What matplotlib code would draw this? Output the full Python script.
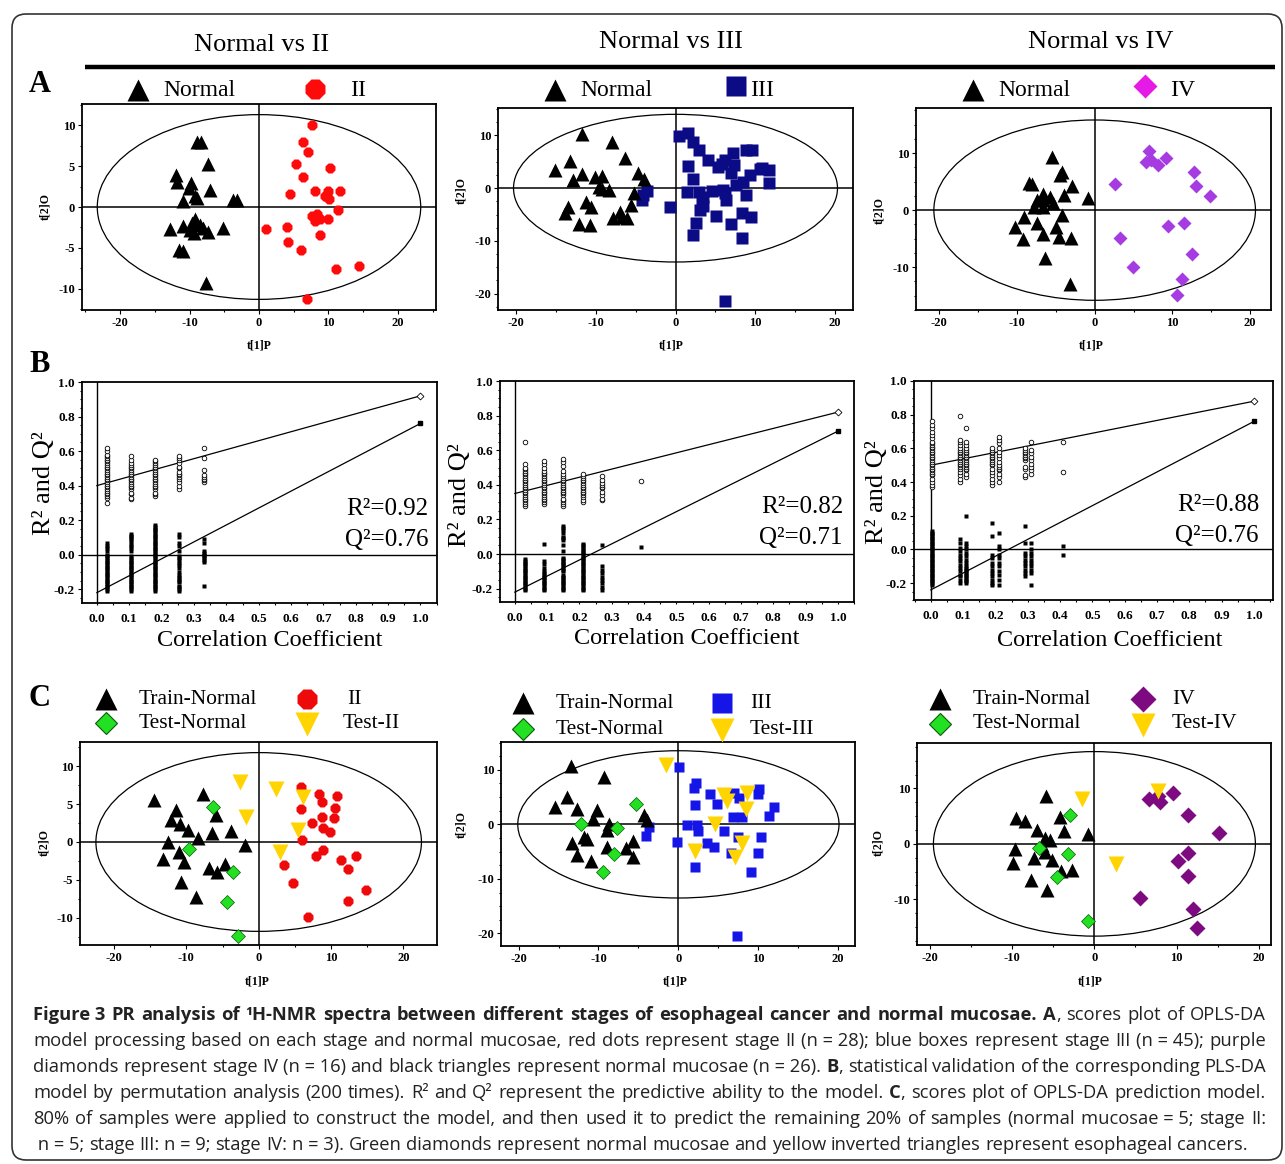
import matplotlib
matplotlib.use('Agg')
import matplotlib.pyplot as plt
from matplotlib.patches import Ellipse, FancyBboxPatch
from matplotlib.ticker import MultipleLocator

W, H = 1285, 1164
SERIF = ['Liberation Serif', 'DejaVu Serif']
SANS = ['Open Sans', 'DejaVu Sans']
plt.rcParams['font.family'] = SERIF
plt.rcParams['axes.unicode_minus'] = False

# ---------------- data: row A (OPLS-DA scores) ----------------
a1_normal_x = [-8.9, -8.4, -7.3, -12.0, -11.8, -9.8, -10.1, -9.2, -8.9, -7.1, -11.0, -3.7, -3.1,
               -12.8, -10.9, -10.0, -9.2, -8.5, -9.3, -8.0, -7.3, -5.2, -11.5, -11.0, -7.6, -9.6]
a1_normal_y = [8.0, 8.0, 5.3, 3.9, 3.0, 2.9, 2.3, 1.3, 1.1, 2.1, 0.7, 0.9, 0.9,
               -2.7, -2.3, -2.8, -1.5, -2.2, -3.2, -2.6, -3.0, -2.6, -5.2, -5.4, -9.3, -2.0]
a1_stage_x = [7.6, 6.4, 7.1, 5.4, 10.3, 6.3, 4.5, 8.0, 9.95, 11.6, 9.5, 10.1, 11.4, 7.6,
              8.3, 8.0, 10.0, 1.0, 4.1, 8.8, 4.2, 6.1, 11.1, 14.4, 6.9, 8.8, 9.8, 8.6]
a1_stage_y = [10.0, 8.0, 6.7, 5.2, 4.8, 3.7, 1.6, 1.9, 1.9, 2.0, 1.3, 1.0, -0.4, -1.1,
              -0.9, -1.7, -1.5, -2.7, -2.4, -3.4, -4.3, -5.2, -7.6, -7.2, -11.3, -1.5, 1.5, -1.3]

a2_normal_x = [-11.8, -8.0, -6.4, -13.3, -15.1, -11.8, -12.9, -10.1, -9.2, -4.7, -4.0, -9.2, -8.3,
               -5.2, -11.3, -10.6, -13.5, -13.9, -12.1, -10.8, -5.6, -7.0, -7.8, -6.1, -6.7, -9.6]
a2_normal_y = [10.2, 8.8, 5.7, 5.1, 3.4, 2.6, 1.6, 2.1, 2.3, 2.8, 1.8, -0.1, -0.4,
               -1.0, -2.6, -3.5, -3.5, -4.8, -6.7, -7.0, -3.2, -4.5, -5.7, -5.7, -5.4, 0.3]
a2_stage_x = [0.5, 1.6, 2.2, 3.0, 4.1, 5.4, 6.2, 7.2, 8.9, 9.6, 7.4, 10.6, 11.8, 1.6, 2.2,
              7.0, 9.3, 8.5, 7.6, 11.8, 1.5, 2.9, 4.6, 6.2, 6.4, 8.9, 3.3, 3.1, -0.7, 2.6,
              2.2, 5.1, 7.0, 8.3, 8.3, 9.5, 6.2, -3.6, -4.2, -4.1, 3.5, 6.0, 5.8, 10.9, 3.4]
a2_stage_y = [9.9, 10.4, 8.8, 7.3, 5.4, 4.0, 5.3, 6.6, 7.2, 7.3, 4.4, 3.7, 3.5, 4.2, 1.8,
              2.8, 2.5, 1.2, 0.6, 0.9, -0.7, -0.7, -0.5, -1.0, -2.3, -1.3, -2.6, -4.2, -3.5, -6.6,
              -8.9, -5.3, -6.7, -9.5, -4.8, -5.4, -21.4, -0.5, -2.3, -1.3, -1.6, -0.4, 4.6, 3.9, -3.3]

a3_normal_x = [-5.5, -4.2, -4.4, -8.5, -8.1, -2.9, -3.9, -6.7, -7.4, -6.6, -7.8, -6.7, -5.3,
               -0.9, -9.1, -4.2, -10.2, -7.4, -5.0, -6.6, -9.2, -4.6, -3.1, -6.4, -3.2, -5.7]
a3_normal_y = [9.3, 6.7, 6.1, 4.7, 4.5, 4.2, 2.6, 2.9, 1.7, 1.7, 0.6, 0.6, 1.2,
               2.2, -1.2, -0.9, -2.9, -2.3, -2.9, -4.1, -5.1, -4.7, -4.8, -8.3, -13.0, 2.3]
a3_stage_x = [7.0, 6.6, 8.2, 9.2, 2.6, 12.8, 13.0, 14.9, 11.5, 9.5, 3.3, 12.5, 4.9, 11.2, 10.6, 7.2]
a3_stage_y = [10.3, 8.5, 7.9, 9.2, 4.5, 6.6, 4.2, 2.4, -2.2, -2.7, -4.8, -7.6, -9.9, -12.1, -14.9, 8.8]

# ---------------- data: row B (permutation tests) ----------------
b1_cols = [0.03, 0.105, 0.18, 0.255, 0.33]
b1_r2 = [[0.30, 0.33, 0.34, 0.35, 0.36, 0.37, 0.38, 0.39, 0.40, 0.41, 0.42, 0.43, 0.44, 0.45, 0.46,
          0.47, 0.48, 0.49, 0.50, 0.51, 0.52, 0.53, 0.54, 0.55, 0.56, 0.57, 0.58, 0.60, 0.62],
         [0.32, 0.33, 0.35, 0.36, 0.38, 0.39, 0.40, 0.41, 0.42, 0.43, 0.44, 0.45, 0.46, 0.47, 0.48,
          0.49, 0.50, 0.51, 0.52, 0.53, 0.55, 0.57],
         [0.34, 0.35, 0.36, 0.38, 0.39, 0.40, 0.41, 0.42, 0.43, 0.44, 0.45, 0.46, 0.47, 0.48, 0.49,
          0.50, 0.51, 0.52, 0.53, 0.54, 0.55],
         [0.38, 0.40, 0.42, 0.44, 0.45, 0.46, 0.47, 0.48, 0.50, 0.51, 0.53, 0.55, 0.56, 0.57],
         [0.42, 0.43, 0.44, 0.45, 0.46, 0.49, 0.56, 0.62]]
b1_q2 = [[-0.21, -0.20, -0.19, -0.18, -0.17, -0.16, -0.15, -0.14, -0.13, -0.12, -0.11, -0.10, -0.09,
          -0.08, -0.07, -0.06, -0.05, -0.04, -0.03, -0.02, -0.01, 0.00, 0.02, 0.04, 0.05, 0.07],
         [-0.21, -0.20, -0.19, -0.18, -0.17, -0.16, -0.15, -0.14, -0.13, -0.12, -0.11, -0.10, -0.09,
          -0.08, -0.07, -0.06, -0.05, -0.04, -0.03, -0.02, -0.01, 0.02, 0.04, 0.05, 0.06, 0.08,
          0.09, 0.10, 0.11, 0.12],
         [-0.21, -0.20, -0.19, -0.18, -0.17, -0.16, -0.15, -0.14, -0.13, -0.12, -0.11, -0.10, -0.09,
          -0.08, -0.07, -0.06, -0.05, -0.04, -0.03, -0.02, -0.01, 0.00, 0.01, 0.02, 0.03, 0.04,
          0.05, 0.06, 0.07, 0.08, 0.09, 0.10, 0.11, 0.12, 0.13, 0.14, 0.15, 0.16, 0.17],
         [-0.21, -0.20, -0.19, -0.18, -0.16, -0.15, -0.14, -0.13, -0.12, -0.10, -0.08, -0.06,
          -0.05, -0.03, -0.02, -0.01, 0.02, 0.05, 0.07, 0.10, 0.12],
         [-0.18, -0.04, -0.03, -0.02, -0.01, 0.00, 0.01, 0.02, 0.07, 0.09]]

b2_cols = [0.03, 0.09, 0.15, 0.21, 0.27, 0.39]
b2_r2 = [[0.28, 0.29, 0.30, 0.31, 0.32, 0.33, 0.34, 0.35, 0.36, 0.37, 0.38, 0.39, 0.40, 0.41, 0.42,
          0.43, 0.44, 0.45, 0.46, 0.47, 0.48, 0.49, 0.50, 0.52, 0.65],
         [0.29, 0.30, 0.31, 0.32, 0.33, 0.34, 0.35, 0.36, 0.37, 0.38, 0.39, 0.40, 0.41, 0.42, 0.43,
          0.44, 0.45, 0.46, 0.47, 0.48, 0.50, 0.52, 0.54],
         [0.28, 0.29, 0.30, 0.31, 0.32, 0.34, 0.35, 0.36, 0.37, 0.38, 0.39, 0.40, 0.41, 0.42, 0.43,
          0.44, 0.45, 0.46, 0.48, 0.51, 0.53, 0.55],
         [0.30, 0.31, 0.33, 0.34, 0.35, 0.36, 0.37, 0.38, 0.39, 0.40, 0.41, 0.42, 0.43, 0.44, 0.45, 0.46],
         [0.31, 0.32, 0.34, 0.36, 0.38, 0.39, 0.40, 0.41, 0.43, 0.45],
         [0.42]]
b2_q2 = [[-0.21, -0.20, -0.19, -0.18, -0.17, -0.16, -0.15, -0.14, -0.13, -0.12, -0.11, -0.10, -0.09,
          -0.08, -0.07, -0.06, -0.05, -0.04, -0.03],
         [-0.21, -0.20, -0.19, -0.18, -0.17, -0.16, -0.15, -0.14, -0.13, -0.12, -0.11, -0.10,
          -0.08, -0.06, -0.04, 0.06],
         [-0.21, -0.20, -0.19, -0.18, -0.17, -0.16, -0.15, -0.14, -0.13, -0.12, -0.10, -0.09, -0.08,
          -0.07, -0.06, -0.05, -0.04, -0.03, -0.02, 0.02, 0.05, 0.08, 0.09, 0.10, 0.12, 0.14,
          0.15, 0.16],
         [-0.21, -0.20, -0.19, -0.18, -0.17, -0.16, -0.15, -0.14, -0.13, -0.12, -0.11, -0.10, -0.09,
          -0.08, -0.07, -0.06, -0.05, -0.04, -0.03, -0.02, -0.01, 0.00, 0.01, 0.02, 0.03, 0.04,
          0.05, 0.06],
         [-0.21, -0.19, -0.17, -0.15, -0.13, -0.11, -0.09, -0.07, 0.05],
         [0.04]]

b3_cols = [0.005, 0.09, 0.11, 0.19, 0.21, 0.29, 0.31, 0.41]
b3_r2 = [[0.37, 0.38, 0.40, 0.42, 0.44, 0.45, 0.46, 0.47, 0.48, 0.49, 0.50, 0.51, 0.52, 0.53, 0.54,
          0.55, 0.56, 0.57, 0.58, 0.59, 0.60, 0.61, 0.62, 0.63, 0.64, 0.66, 0.68, 0.70, 0.72, 0.74, 0.76],
         [0.40, 0.42, 0.44, 0.46, 0.48, 0.49, 0.50, 0.51, 0.52, 0.53, 0.54, 0.55, 0.56, 0.57, 0.58,
          0.59, 0.60, 0.62, 0.64, 0.65, 0.79],
         [0.43, 0.45, 0.47, 0.48, 0.49, 0.50, 0.51, 0.52, 0.53, 0.54, 0.55, 0.56, 0.57, 0.58, 0.59,
          0.60, 0.62, 0.64, 0.72],
         [0.38, 0.40, 0.42, 0.44, 0.46, 0.48, 0.50, 0.51, 0.52, 0.53, 0.54, 0.55, 0.56, 0.57, 0.58,
          0.59, 0.60],
         [0.40, 0.43, 0.45, 0.47, 0.48, 0.49, 0.50, 0.52, 0.54, 0.56, 0.58, 0.60, 0.63, 0.65, 0.67],
         [0.43, 0.44, 0.48, 0.49, 0.53, 0.54, 0.55, 0.56, 0.57, 0.58, 0.59, 0.60],
         [0.45, 0.47, 0.49, 0.51, 0.53, 0.55, 0.57, 0.59, 0.64],
         [0.46, 0.64]]
b3_q2 = [[-0.21, -0.20, -0.19, -0.18, -0.17, -0.16, -0.15, -0.14, -0.13, -0.12, -0.11, -0.10, -0.09,
          -0.08, -0.07, -0.06, -0.05, -0.04, -0.03, -0.02, -0.01, 0.00, 0.01, 0.02, 0.03, 0.04,
          0.05, 0.06, 0.07, 0.08, 0.09, 0.10, 0.11],
         [-0.20, -0.18, -0.16, -0.15, -0.13, -0.11, -0.09, -0.07, -0.05, -0.03, -0.01, 0.01, 0.04, 0.06],
         [-0.20, -0.19, -0.18, -0.17, -0.16, -0.15, -0.14, -0.13, -0.12, -0.11, -0.10, -0.08, -0.06,
          -0.04, -0.02, 0.00, 0.02, 0.04, 0.20],
         [-0.21, -0.20, -0.18, -0.16, -0.14, -0.12, -0.10, -0.08, -0.05, -0.03, 0.08, 0.16],
         [-0.21, -0.18, -0.15, -0.13, -0.10, -0.08, -0.05, -0.03, 0.00, 0.02, 0.10],
         [-0.16, -0.14, -0.12, -0.10, -0.08, -0.06, -0.04, -0.02, 0.04, 0.14],
         [-0.21, -0.14, -0.12, -0.10, -0.08, -0.06, -0.04, -0.02, 0.00, 0.04],
         [-0.03, 0.02]]

r2_start = [0.40, 0.35, 0.50]
q2_start = [-0.22, -0.22, -0.24]
r2_model = [0.92, 0.82, 0.88]
q2_model = [0.76, 0.71, 0.76]

# ---------------- data: row C (prediction scores) ----------------
c1_train_x = [-14.5, -7.7, -11.4, -12.1, -10.9, -9.8, -5.9, -6.5, -3.8, -8.4, -12.5, -1.9, -11.0,
              -13.2, -10.3, -6.8, -5.7, -4.6, -10.7, -8.6]
c1_train_y = [5.5, 6.4, 4.2, 2.9, 2.4, 1.6, 3.5, 1.2, 1.5, 0.5, 0.0, -0.4, -1.3,
              -2.2, -2.6, -3.5, -3.9, -2.9, -5.3, -7.3]
c1_testn_x = [-6.3, -9.7, -3.6, -4.4, -2.9]
c1_testn_y = [4.6, -0.9, -4.0, -7.9, -12.4]
c1_stage_x = [5.8, 8.3, 10.8, 8.7, 5.9, 10.5, 8.8, 10.4, 7.4, 8.9, 9.8, 6.0, 8.9, 7.9, 11.4,
              13.5, 12.3, 3.5, 4.8, 14.9, 12.4, 6.8]
c1_stage_y = [7.2, 6.3, 6.1, 5.3, 4.3, 4.5, 3.3, 3.2, 2.5, 1.8, 1.3, 0.2, -1.1, -1.8, -2.4,
              -1.9, -3.6, -3.1, -5.4, -6.4, -7.8, -9.9]
c1_tests_x = [-2.6, -1.7, 2.4, 6.1, 5.5, 2.9]
c1_tests_y = [7.9, 3.3, 7.0, 5.9, 1.6, -1.3]

c2_train_x = [-13.5, -9.25, -14.0, -15.5, -12.7, -10.2, -10.7, -8.7, -8.9, -4.25, -3.9, -11.8,
              -13.3, -8.9, -6.6, -5.7, -12.7, -10.9, -5.7, -11.4]
c2_train_y = [10.7, 8.7, 5.1, 3.2, 2.8, 2.6, 0.9, 0.1, -1.0, 1.7, 0.8, -2.3,
              -3.5, -4.1, -4.3, -3.1, -5.6, -6.7, -6.0, -2.6]
c2_testn_x = [-5.25, -12.25, -7.7, -8.0, -9.4]
c2_testn_y = [3.7, 0.1, -0.6, -5.5, -8.7]
c2_stage_x = [0.1, 2.25, 1.9, 3.9, 4.8, 7.0, 7.6, 10.1, 10.0, 12.0, 11.3, 2.1, 6.8, 8.0, 1.1,
              2.3, 2.5, 5.7, 7.5, 10.3, -0.2, 3.6, 4.5, 6.6, 10.0, 2.1, 9.1, 7.3, -3.7, -4.1]
c2_stage_y = [10.6, 7.6, 6.6, 5.5, 3.8, 5.8, 4.8, 6.4, 5.6, 3.2, 1.5, 3.5, 1.4, 1.4, -0.1,
              -0.1, -1.2, -1.3, -2.3, -2.4, -3.3, -3.5, -4.1, -5.2, -5.2, -7.9, -8.8, -20.4, -0.4, -2.1]
c2_tests_x = [-1.5, 5.7, 6.1, 8.6, 8.5, 4.6, 7.95, 2.1, 7.1]
c2_tests_y = [10.8, 5.4, 4.2, 5.8, 2.9, 0.1, -3.4, -4.8, -6.0]

c3_train_x = [-5.9, -9.5, -8.4, -7.0, -4.2, -3.7, -0.8, -6.0, -5.4, -9.65, -6.0, -7.4, -5.2,
              -9.9, -4.1, -2.7, -7.75, -5.8, -6.4]
c3_train_y = [8.6, 4.6, 4.1, 2.5, 4.8, 2.3, 1.8, 1.1, 0.7, -1.0, -1.4, -2.6, -2.9,
              -3.5, -4.9, -4.7, -6.5, -8.3, -0.2]
c3_testn_x = [-3.0, -6.7, -3.2, -4.6, -0.8]
c3_testn_y = [5.2, -0.8, -1.8, -5.9, -14.0]
c3_stage_x = [6.6, 8.0, 9.6, 11.4, 15.2, 11.4, 10.2, 11.4, 5.5, 12.0, 12.5, 7.8]
c3_stage_y = [8.1, 7.5, 9.2, 5.2, 1.9, -1.7, -3.1, -5.8, -9.8, -11.7, -15.2, 8.6]
c3_tests_x = [-1.5, 7.8, 2.6]
c3_tests_y = [8.1, 9.5, -3.6]

titles = ['Normal vs II', 'Normal vs III', 'Normal vs IV']
stages = ['II', 'III', 'IV']
# '*' toggles bold, '~' is a space that is not stretched when justifying
caption = [
    "*Figure~3 PR analysis of ¹H-NMR spectra between different stages of esophageal cancer and normal mucosae. A*, scores plot of OPLS-DA",
    "model processing based on each stage and normal mucosae, red dots represent stage II (n~=~28); blue boxes represent stage III (n~=~45); purple",
    "diamonds represent stage IV (n~=~16) and black triangles represent normal mucosae (n~=~26). *B*, statistical validation of the corresponding PLS-DA",
    "model by permutation analysis (200 times). R² and Q² represent the predictive ability to the model. *C*, scores plot of OPLS-DA prediction model.",
    "80% of samples were applied to construct the model, and then used it to predict the remaining 20% of samples (normal mucosae~=~5; stage II:",
    "~n~=~5; stage III: n~=~9; stage IV: n~=~3). Green diamonds represent normal mucosae and yellow inverted triangles represent esophageal cancers.",
]

fig = plt.figure(figsize=(W / 100, H / 100), dpi=100)


def px_axes(l, t, r, b):
    return fig.add_axes([l / W, 1 - b / H, (r - l) / W, (b - t) / H])


def bold_ticks(ax):
    for lab in ax.get_xticklabels() + ax.get_yticklabels():
        lab.set_fontweight('bold')


def score_axes(box, xlim, ylim, ell, yticks):
    ax = px_axes(*box)
    ax.set_xlim(*xlim)
    ax.set_ylim(*ylim)
    ax.axhline(0, color='k', lw=1.1, zorder=1)
    ax.axvline(0, color='k', lw=1.1, zorder=1)
    ax.add_patch(Ellipse((0, 0), 2 * ell[0], 2 * ell[1], fill=False, lw=0.9, ec='k', zorder=1))
    xt = [-20, -10, 0, 10, 20]
    ax.set_xticks(xt, [str(v) for v in xt])
    ax.set_yticks(yticks, [str(v) for v in yticks])
    ax.xaxis.set_minor_locator(MultipleLocator(5))
    ax.yaxis.set_minor_locator(MultipleLocator(2.5))
    ax.tick_params(which='both', direction='out', width=0.8, labelsize=9, pad=2)
    ax.tick_params(which='major', length=3)
    ax.tick_params(which='minor', length=1.5)
    bold_ticks(ax)
    for s in ax.spines.values():
        s.set_linewidth(1.3)
    return ax


# ---------- row A ----------
a_boxes = [(82, 104, 436, 310), (498, 108, 853, 310), (916, 108, 1271, 310)]
a_lims = [((-25.5, 25.5), (-12.6, 12.6)), ((-22.3, 22.3), (-23.1, 15.2)), ((-23.0, 22.7), (-17.5, 17.9))]
a_ells = [(23.3, 11.3), (20.35, 14.0), (20.7, 15.8)]
a_yticks = [[-10, -5, 0, 5, 10], [-20, -10, 0, 10], [-10, 0, 10]]
a_normal = [(a1_normal_x, a1_normal_y), (a2_normal_x, a2_normal_y), (a3_normal_x, a3_normal_y)]
a_stage = [(a1_stage_x, a1_stage_y), (a2_stage_x, a2_stage_y), (a3_stage_x, a3_stage_y)]
a_style = [dict(marker='8', ms=8, color='#ff0a0a'),
           dict(marker='s', ms=8, color='#0b0b86'),
           dict(marker='D', ms=7.5, color='#a53be0')]
for i in range(3):
    ax = score_axes(a_boxes[i], a_lims[i][0], a_lims[i][1], a_ells[i], a_yticks[i])
    ax.plot(*a_stage[i], ls='none', mec='none', zorder=3, **a_style[i])
    ax.plot(*a_normal[i], ls='none', marker='^', ms=10.5, color='k', mec='none', zorder=3)

# ---------- row B ----------
b_boxes = [(82, 382, 437, 603), (500, 381, 854, 602), (914, 381, 1273, 600)]
b_xlims = [(-0.046, 1.051), (-0.046, 1.05), (-0.052, 1.059)]
b_ylims = [(-0.28, 1.0), (-0.277, 1.0), (-0.30, 1.0)]
b_cols = [b1_cols, b2_cols, b3_cols]
b_r2 = [b1_r2, b2_r2, b3_r2]
b_q2 = [b1_q2, b2_q2, b3_q2]
for i in range(3):
    ax = px_axes(*b_boxes[i])
    ax.set_xlim(*b_xlims[i])
    ax.set_ylim(*b_ylims[i])
    ax.axhline(0, color='k', lw=1.0, zorder=1)
    ax.axvline(0, color='k', lw=1.0, zorder=1)
    for x, vals in zip(b_cols[i], b_r2[i]):
        ax.plot([x] * len(vals), vals, ls='none', marker='o', ms=3.3, mfc='white', mec='k', mew=0.6, zorder=3)
    for x, vals in zip(b_cols[i], b_q2[i]):
        ax.plot([x] * len(vals), vals, ls='none', marker='s', ms=2.8, color='k', mec='none', zorder=3)
    ax.plot([0, 1], [r2_start[i], r2_model[i]], color='k', lw=0.9, zorder=2)
    ax.plot([0, 1], [q2_start[i], q2_model[i]], color='k', lw=0.9, zorder=2)
    ax.plot([1], [r2_model[i]], ls='none', marker='D', ms=3.5, mfc='white', mec='k', mew=0.6, zorder=4)
    ax.plot([1], [q2_model[i]], ls='none', marker='s', ms=3.5, color='k', zorder=4)
    xt = [k / 10 for k in range(11)]
    ax.set_xticks(xt, ['%.1f' % v for v in xt])
    yt = [-0.2, 0.0, 0.2, 0.4, 0.6, 0.8, 1.0]
    ax.set_yticks(yt, ['%.1f' % v for v in yt])
    ax.xaxis.set_minor_locator(MultipleLocator(0.05))
    ax.yaxis.set_minor_locator(MultipleLocator(0.05))
    ax.tick_params(which='both', direction='out', width=0.8, labelsize=9.5, pad=2)
    ax.tick_params(axis='x', which='both', length=1.5, pad=6)
    ax.tick_params(axis='y', which='major', length=3)
    ax.tick_params(axis='y', which='minor', length=1.5)
    bold_ticks(ax)
    for s in ax.spines.values():
        s.set_linewidth(1.3)

# ---------- row C ----------
c_boxes = [(80, 742, 437, 945), (501, 742, 855, 946), (917, 743, 1271, 945)]
c_lims = [((-24.7, 24.65), (-13.6, 13.2)), ((-22.2, 22.1), (-22.3, 15.1)), ((-21.6, 21.5), (-18.25, 18.2))]
c_ells = [(22.5, 11.8), (20.1, 13.5), (19.6, 16.65)]
c_yticks = [[-10, -5, 0, 5, 10], [-20, -10, 0, 10], [-10, 0, 10]]
c_train = [(c1_train_x, c1_train_y), (c2_train_x, c2_train_y), (c3_train_x, c3_train_y)]
c_testn = [(c1_testn_x, c1_testn_y), (c2_testn_x, c2_testn_y), (c3_testn_x, c3_testn_y)]
c_stage = [(c1_stage_x, c1_stage_y), (c2_stage_x, c2_stage_y), (c3_stage_x, c3_stage_y)]
c_tests = [(c1_tests_x, c1_tests_y), (c2_tests_x, c2_tests_y), (c3_tests_x, c3_tests_y)]
c_style = [dict(marker='8', ms=8, color='#ee0a0a'),
           dict(marker='s', ms=7.5, color='#1515e8'),
           dict(marker='D', ms=8, color='#7d0a80')]
GREEN = dict(marker='D', ms=7.5, mfc='#22e022', mec='#0a5a0a', mew=0.5)
YELLOW = dict(marker='v', ms=11, color='#ffd400', mec='none')
for i in range(3):
    ax = score_axes(c_boxes[i], c_lims[i][0], c_lims[i][1], c_ells[i], c_yticks[i])
    ax.plot(*c_stage[i], ls='none', mec='none', zorder=3, **c_style[i])
    ax.plot(*c_train[i], ls='none', marker='^', ms=10.5, color='k', mec='none', zorder=3)
    ax.plot(*c_testn[i], ls='none', zorder=4, **GREEN)
    ax.plot(*c_tests[i], ls='none', zorder=4, **YELLOW)

# ---------- overlay in pixel coordinates ----------
ov = fig.add_axes([0, 0, 1, 1])
ov.set_xlim(0, W)
ov.set_ylim(H, 0)
ov.axis('off')

ov.add_patch(FancyBboxPatch((12, 14), 1270, 1146, boxstyle='round,pad=0,rounding_size=14',
                            fill=False, ec='#333333', lw=1.2))
ov.plot([85, 1275], [67, 67], color='k', lw=3.2, solid_capstyle='butt')
for cx, cy, t in zip([262, 671, 1101], [45, 42, 42], titles):
    ov.text(cx, cy, t, ha='center', va='center', fontsize=19)
for cy, t in zip([85, 365, 698], ['A', 'B', 'C']):
    ov.text(40, cy, t, ha='center', va='center', fontsize=22, fontweight='bold')

# row A legends
a_leg = [(138, 350), (555, 750), (973, 1170)]
a_leg_mk = [(315, 89), (736, 86), (1145, 86)]
a_leg_style = [dict(marker='8', ms=16, color='#ff0a0a'),
               dict(marker='s', ms=15, color='#0b0b86'),
               dict(marker='D', ms=12, color='#e61ae6')]
for i in range(3):
    tx, sx = a_leg[i]
    ov.plot([tx], [90], ls='none', marker='^', ms=16, color='k', mec='none')
    ov.text(tx + 25, 91, 'Normal', ha='left', va='center', fontsize=17)
    ov.plot([a_leg_mk[i][0]], [a_leg_mk[i][1]], ls='none', mec='none', **a_leg_style[i])
    ov.text(sx, 91, stages[i], ha='left', va='center', fontsize=17)

# row C legends
c_leg = [(106, 307, 347, 343, 699, 723), (523, 722, 750, 750, 703, 729), (940, 1143, 1172, 1172, 699, 724)]
c_leg_style = [dict(marker='8', ms=16, color='#ee0a0a'),
               dict(marker='s', ms=15, color='#1515e8'),
               dict(marker='D', ms=13, color='#7d0a80')]
for i in range(3):
    lx, sx, stx, ttx, y1, y2 = c_leg[i]
    ov.plot([lx], [y1], ls='none', marker='^', ms=16, color='k', mec='none')
    ov.text(lx + 33, y1, 'Train-Normal', ha='left', va='center', fontsize=15.5)
    ov.plot([lx], [y2], ls='none', marker='D', ms=11, mfc='#22e022', mec='#0a5a0a', mew=0.8)
    ov.text(lx + 33, y2, 'Test-Normal', ha='left', va='center', fontsize=15.5)
    ov.plot([sx], [y1], ls='none', mec='none', **c_leg_style[i])
    ov.text(stx, y1, stages[i], ha='left', va='center', fontsize=15.5)
    ov.plot([sx], [y2 + 1], ls='none', marker='v', ms=17, color='#ffd400', mec='none')
    ov.text(ttx, y2, 'Test-' + stages[i], ha='left', va='center', fontsize=15.5)

# axis labels of score plots
for cx, cy in [(259, 346), (671, 345), (1091, 345), (257, 982), (675, 982), (1090, 982)]:
    ov.text(cx, cy, 't[1]P', ha='center', va='center', fontsize=8.5, fontweight='bold')
for cx, cy in [(45, 207), (461, 190), (879, 210), (44, 842), (461, 825), (878, 843)]:
    ov.text(cx, cy, 't[2]O', ha='center', va='center', fontsize=8.5, fontweight='bold', rotation=90)

# labels of permutation plots
for i, (cx, cy, lx, ly, rx, ry) in enumerate([(270, 640, 44, 483, 428, 509),
                                             (687, 638, 460, 495, 843, 507),
                                             (1110, 640, 877, 492, 1259, 505)]):
    ov.text(cx, cy, 'Correlation Coefficient', ha='center', va='center', fontsize=17.5)
    ov.text(lx, ly, 'R² and Q²', ha='center', va='center', fontsize=19, rotation=90)
    ov.text(rx, ry, 'R²=%.2f' % r2_model[i], ha='right', va='center', fontsize=18)
    ov.text(rx, ry + 31, 'Q²=%.2f' % q2_model[i], ha='right', va='center', fontsize=18)

# caption, justified like the journal layout
renderer = fig.canvas.get_renderer()


def measure(s, bold, size):
    t = ov.text(0, 0, s, fontsize=size, family=SANS, fontweight='bold' if bold else 'normal')
    w = t.get_window_extent(renderer).width
    t.remove()
    return w


def split_words(line, bold):
    words = []
    for w in line.split(' '):
        parts = []
        for j, chunk in enumerate(w.split('*')):
            if j > 0:
                bold = not bold
            if chunk:
                parts.append((chunk.replace('~', ' '), bold))
        words.append(parts)
    return words, bold


x_left, x_right = 33, 1266
BASE = 10.0
bold = False
parsed = []
for line in caption:
    words, bold = split_words(line, bold)
    parsed.append(words)
sp_base = measure('a a', False, BASE) - measure('aa', False, BASE)
natural = []
for words in parsed[:-1]:
    w = sum(measure(s, b, BASE) for parts in words for s, b in parts)
    natural.append(w + sp_base * (len(words) - 1))
CAP_SIZE = BASE * (x_right - x_left) / max(natural)

sp_nat = measure('a a', False, CAP_SIZE) - measure('aa', False, CAP_SIZE)
for k, words in enumerate(parsed):
    y = 1015 + 26 * k
    widths = [[measure(s, b, CAP_SIZE) for s, b in parts] for parts in words]
    total = sum(sum(w) for w in widths)
    gaps = len(words) - 1
    if k < len(parsed) - 1:
        space = (x_right - x_left - total) / gaps
    else:
        space = sp_nat
    x = x_left
    for parts, ws in zip(words, widths):
        for (s, b), wd in zip(parts, ws):
            ov.text(x, y, s, ha='left', va='center', fontsize=CAP_SIZE, family=SANS,
                    fontweight='bold' if b else 'normal', color='#222222')
            x += wd
        x += space

fig.savefig('out.png', dpi=100)
